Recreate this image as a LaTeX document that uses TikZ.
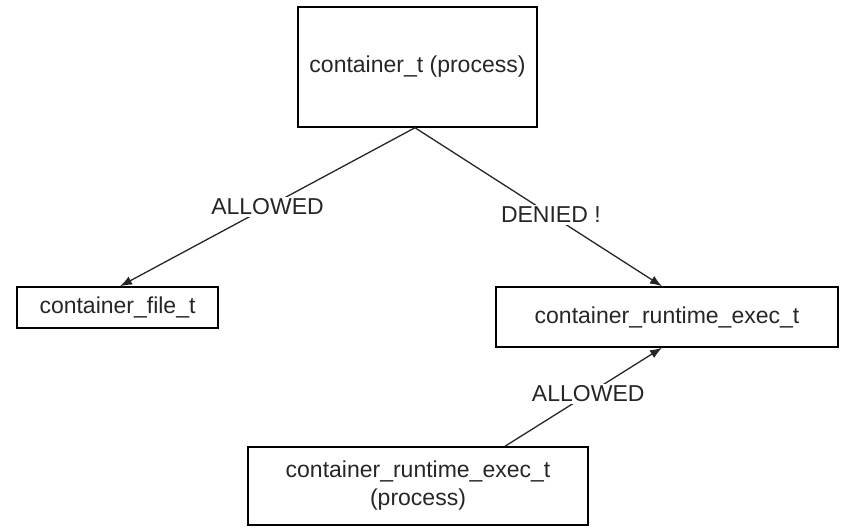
\documentclass[tikz,border=0pt]{standalone}
\usepackage{fontspec}
\setmainfont{Liberation Sans}
\usetikzlibrary{arrows.meta}
\begin{document}
\begin{tikzpicture}[x=1pt,y=1pt,
  every node/.style={font=\fontsize{23}{28}\selectfont, text=black!85},
  box/.style={draw=black, line width=1.5pt, inner sep=0pt, align=center},
  conn/.style={draw=black!85, line width=1.3pt, -{Latex[length=12pt,width=9pt]}},
  lbl/.style={fill=white, inner sep=2pt}]
\useasboundingbox (0,0) rectangle (844,528);
\node[box, minimum width=239pt, minimum height=120pt] (top) at (417.5,461) {container\_t (process)};
\node[box, minimum width=201pt, minimum height=41pt] (file) at (117.5,220.5) {container\_file\_t};
\node[box, minimum width=342pt, minimum height=60pt] (rt) at (667,211) {container\_runtime\_exec\_t};
\node[box, minimum width=340pt, minimum height=78pt] (proc) at (418,42) {container\_runtime\_exec\_t\\(process)};
\coordinate (ts) at ([xshift=-2.5pt]top.south);
\draw[conn] (ts) -- node[lbl, pos=0.5] {ALLOWED} ([xshift=2.5pt]file.north);
\draw[conn] (ts) -- node[lbl, pos=0.55] {DENIED !} ([xshift=-5pt]rt.north);
\draw[conn] ([xshift=87pt]proc.north) -- node[lbl, pos=0.53] {ALLOWED} ([xshift=-5pt]rt.south);
\end{tikzpicture}
\end{document}
